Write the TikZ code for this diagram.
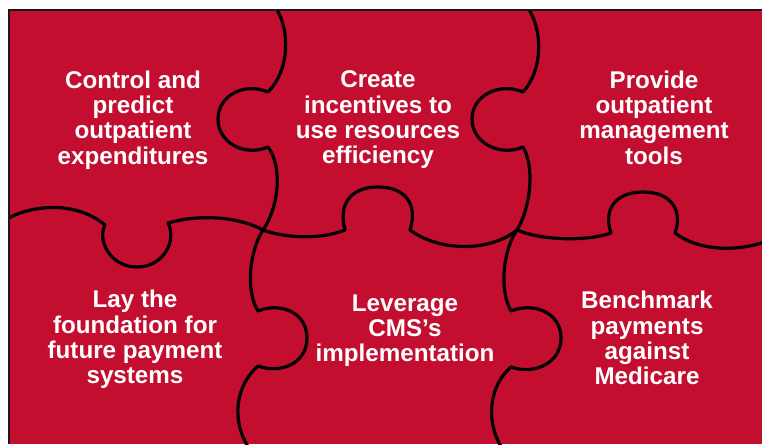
\documentclass[tikz,border=0pt]{standalone}
\usepackage{fontspec}
\setmainfont{Liberation Sans}
\definecolor{puzred}{RGB}{196,14,48}
\begin{document}
\begin{tikzpicture}[x=1pt,y=-1pt,
  seam/.style={line width=3.2pt, line join=round, line cap=round, draw=black},
  piecetext/.style={text=white, font=\fontsize{24.2}{25.3}\selectfont\bfseries, align=center, inner sep=0pt}]
\useasboundingbox (0,0) rectangle (762,444);
\fill[puzred] (9,10) rectangle (762,444);
\begin{scope}
\clip (9,10) rectangle (762,444);
% vertical seam 1
\draw[seam] (276,8) .. controls (290,30) and (290,70) .. (268,92)
  .. controls (245,82) and (218,95) .. (218,119)
  .. controls (218,143) and (245,157) .. (268,147)
  .. controls (282,165) and (280,205) .. (263,230)
  .. controls (250,250) and (245,290) .. (258,311)
  .. controls (280,302) and (307,312) .. (307,338)
  .. controls (307,364) and (280,374) .. (258,366)
  .. controls (236,385) and (230,420) .. (250,450);
% vertical seam 2
\draw[seam] (528,8) .. controls (543,30) and (543,70) .. (523,92)
  .. controls (500,82) and (472,95) .. (472,119)
  .. controls (472,143) and (500,157) .. (523,147)
  .. controls (534,165) and (532,205) .. (517,230)
  .. controls (503,250) and (499,290) .. (511,311)
  .. controls (533,302) and (561,312) .. (561,338)
  .. controls (561,364) and (533,375) .. (511,367)
  .. controls (490,385) and (484,420) .. (503,450);
% horizontal seam
\draw[seam] (5,220) .. controls (30,205) and (75,200) .. (105,225)
  .. controls (97,240) and (110,267) .. (137,267)
  .. controls (164,267) and (177,240) .. (168,223)
  .. controls (195,215) and (235,215) .. (263,230)
  .. controls (285,238) and (320,240) .. (345,230)
  .. controls (338,205) and (350,187) .. (378,187)
  .. controls (406,187) and (418,205) .. (410,230)
  .. controls (440,252) and (490,252) .. (517,230)
  .. controls (540,240) and (585,242) .. (611,233)
  .. controls (603,210) and (615,192) .. (643,192)
  .. controls (671,192) and (683,210) .. (675,233)
  .. controls (700,252) and (740,252) .. (770,240);
\end{scope}
\draw[line width=2.8pt, draw=black!90] (9,444) -- (9,10) -- (762,10);
\node[piecetext] (p1) at (133,120) {Control and\\predict\\outpatient\\expenditures};
\node[piecetext] (p2) at (378,120) {Create\\incentives to\\use resources\\efficiency};
\node[piecetext] (p3) at (654,117.5) {Provide\\outpatient\\management\\tools};
\node[piecetext] (p4) at (135,339.5) {Lay the\\foundation for\\future payment\\systems};
\node[piecetext] (p5) at (405,330.5) {Leverage\\CMS’s\\implementation};
\node[piecetext] (p6) at (647,338) {Benchmark\\payments\\against\\Medicare};
\end{tikzpicture}
\end{document}
